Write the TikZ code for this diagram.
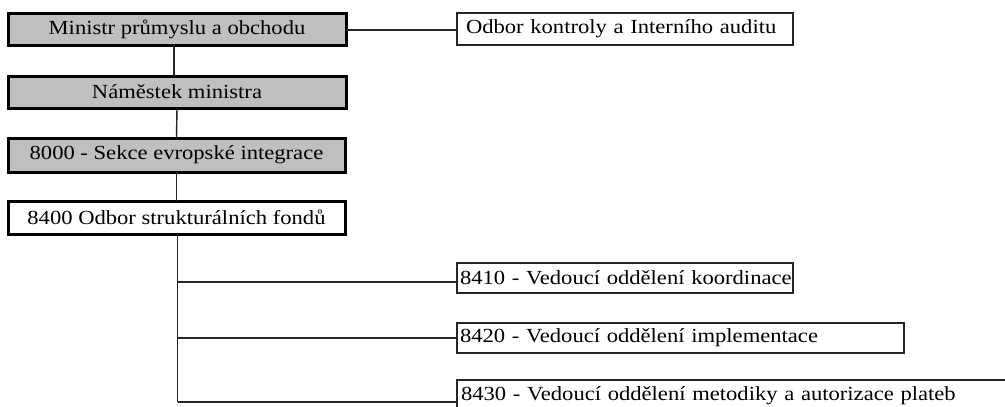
\documentclass[tikz,border=0pt]{standalone}
\usepackage{fontspec}
\setmainfont{Liberation Serif}
\newfontfamily\orgfont[FakeStretch=1.13]{Liberation Serif}
\begin{document}
\begin{tikzpicture}[x=1pt,y=-1pt,
  every node/.style={inner sep=0pt,outer sep=0pt,font=\orgfont\fontsize{20}{24}\selectfont},
  headbox/.style={draw=black,line width=3pt,fill=black!25,minimum height=32pt,minimum width=338pt,anchor=north west},
  unitbox/.style={draw=black,line width=3pt,fill=white,minimum height=33pt,minimum width=337pt,anchor=north west},
  subbox/.style={draw=black!85,line width=1.4pt,fill=white,minimum height=30pt,anchor=north west,align=left},
  link/.style={draw=black!85,line width=1.4pt}]
\clip (0,0) rectangle (1005,407);
\fill[white] (0,0) rectangle (1005,407);

% management chain
\node[headbox] (min) at (8,13) {Ministr průmyslu a obchodu};
\node[headbox] (dep) at (8,76) {Náměstek ministra};
\node[headbox,minimum height=34pt,minimum width=337pt] (sec) at (8,138) {8000 - Sekce evropské integrace};
\node[unitbox] (dir) at (8,201) {8400 Odbor strukturálních fondů};

% audit unit beside the minister
\node[subbox,minimum width=336pt,minimum height=32pt,text width=330pt] (aud) at (457,13) {\hspace*{6pt}\mbox{Odbor kontroly a Interního auditu}};

% departments
\node[subbox,minimum width=336pt,text width=334pt] (d10) at (457,263) {\hspace*{2pt}\mbox{8410 - Vedoucí oddělení koordinace}};
\node[subbox,minimum width=447pt,text width=445pt] (d20) at (457,323) {\hspace*{2pt}\mbox{8420 - Vedoucí oddělení implementace}};
\node[subbox,minimum width=560pt,text width=556pt,minimum height=32pt] (d30) at (457,380) {\hspace*{2pt}\mbox{8430 - Vedoucí oddělení metodiky a autorizace plateb}};

% connectors
\draw[link] ([xshift=-3pt]min.south) -- ([xshift=-3pt]dep.north);
\draw[link] (dep.south) -- (sec.north);
\draw[link] (sec.south) -- (dir.north);
\draw[link] ([yshift=-1pt]min.east) -- ([yshift=-1pt]aud.west);

\coordinate (trunkend) at ([xshift=1pt]dir.south |- 0,402);
\draw[link] ([xshift=1pt]dir.south) -- (trunkend);
\draw[link] ([xshift=1pt]dir.south |- 0,282) -- (d10.west |- 0,282);
\draw[link] ([xshift=1pt]dir.south |- d20.west) -- (d20.west);
\draw[link] (trunkend) -- (d30.west |- trunkend);
\end{tikzpicture}
\end{document}
